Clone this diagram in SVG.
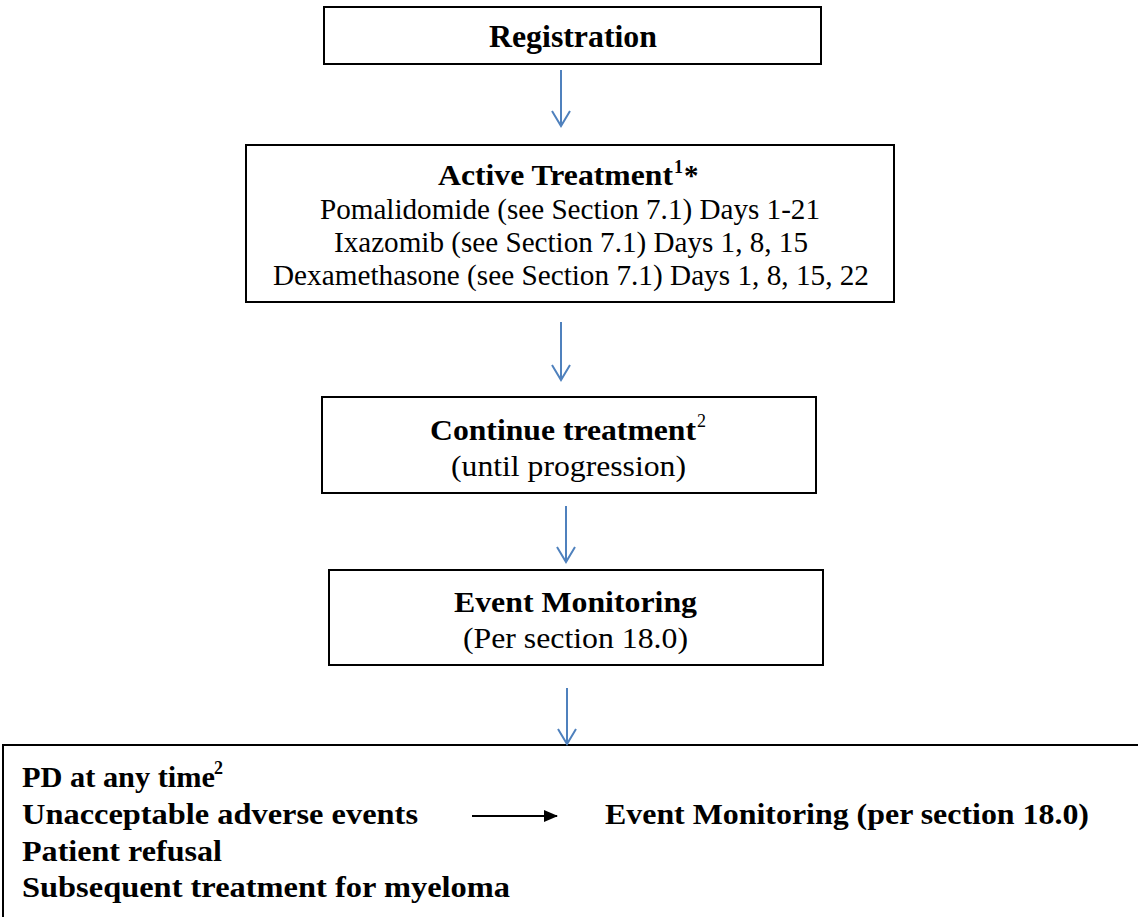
<svg xmlns="http://www.w3.org/2000/svg" width="1138" height="917" viewBox="0 0 1138 917">
<style>
.box{fill:#fff;stroke:#000;stroke-width:2}
.t{font-family:"Liberation Serif","Times New Roman",serif;fill:#000}
.b{font-weight:bold}
.con{stroke:#4F81BD;stroke-width:2;fill:none}
.blk{stroke:#000;stroke-width:2;fill:none}
</style>
<defs>
<marker id="vh" markerWidth="20" markerHeight="24" refX="16" refY="10" orient="auto" markerUnits="userSpaceOnUse" viewBox="0 0 20 20">
<path d="M1,1 L16,10 L1,19" fill="none" stroke="#4F81BD" stroke-width="2"/>
</marker>
<marker id="ah" markerWidth="14" markerHeight="12" refX="13" refY="6" orient="auto" markerUnits="userSpaceOnUse">
<path d="M0,0 L14,6 L0,12 z" fill="#000"/>
</marker>
</defs>
<rect width="1138" height="917" fill="#fff"/>
<g id="registration">
<rect class="box" x="324" y="7" width="497" height="57"/>
<text class="t b" x="489" y="47" font-size="31" textLength="168" lengthAdjust="spacingAndGlyphs">Registration</text>
</g>
<g id="active-treatment">
<rect class="box" x="246" y="145" width="648" height="157"/>
<text class="t b" x="438" y="185" font-size="29" textLength="235" lengthAdjust="spacingAndGlyphs">Active Treatment</text>
<text class="t b" x="674" y="173" font-size="18">1</text>
<text class="t b" x="684" y="185" font-size="29">*</text>
<text class="t" x="320" y="219" font-size="29" textLength="500" lengthAdjust="spacingAndGlyphs">Pomalidomide (see Section 7.1) Days 1-21</text>
<text class="t" x="334" y="252" font-size="29" textLength="474" lengthAdjust="spacingAndGlyphs">Ixazomib (see Section 7.1) Days 1, 8, 15</text>
<text class="t" x="273" y="285" font-size="29" textLength="596" lengthAdjust="spacingAndGlyphs">Dexamethasone (see Section 7.1) Days 1, 8, 15, 22</text>
</g>
<g id="continue-treatment">
<rect class="box" x="322" y="397" width="494" height="96"/>
<text class="t b" x="430" y="440" font-size="29" textLength="266" lengthAdjust="spacingAndGlyphs">Continue treatment</text>
<text class="t" x="697" y="427" font-size="18">2</text>
<text class="t" x="451" y="476" font-size="29" textLength="235" lengthAdjust="spacingAndGlyphs">(until progression)</text>
</g>
<g id="event-monitoring">
<rect class="box" x="329" y="570" width="494" height="95"/>
<text class="t b" x="454" y="612" font-size="29" textLength="243" lengthAdjust="spacingAndGlyphs">Event Monitoring</text>
<text class="t" x="463" y="648" font-size="29" textLength="225" lengthAdjust="spacingAndGlyphs">(Per section 18.0)</text>
</g>
<g id="off-treatment">
<rect class="box" x="3" y="745" width="1145" height="190"/>
<text class="t b" x="22" y="787" font-size="30" textLength="193" lengthAdjust="spacingAndGlyphs">PD at any time</text>
<text class="t b" x="214" y="774" font-size="18">2</text>
<text class="t b" x="22" y="824" font-size="30" textLength="396" lengthAdjust="spacingAndGlyphs">Unacceptable adverse events</text>
<text class="t b" x="22" y="861" font-size="30" textLength="200" lengthAdjust="spacingAndGlyphs">Patient refusal</text>
<text class="t b" x="22" y="897" font-size="30" textLength="488" lengthAdjust="spacingAndGlyphs">Subsequent treatment for myeloma</text>
<text class="t b" x="605" y="824" font-size="30" textLength="484" lengthAdjust="spacingAndGlyphs">Event Monitoring (per section 18.0)</text>
</g>
<g id="connectors">
<line class="con" x1="561" y1="70" x2="561" y2="126" marker-end="url(#vh)"/>
<line class="con" x1="561" y1="322" x2="561" y2="380" marker-end="url(#vh)"/>
<line class="con" x1="566" y1="506" x2="566" y2="562" marker-end="url(#vh)"/>
<line class="con" x1="567" y1="688" x2="567" y2="744" marker-end="url(#vh)"/>
<line class="blk" x1="472" y1="816" x2="557" y2="816" marker-end="url(#ah)"/>
</g>
</svg>
